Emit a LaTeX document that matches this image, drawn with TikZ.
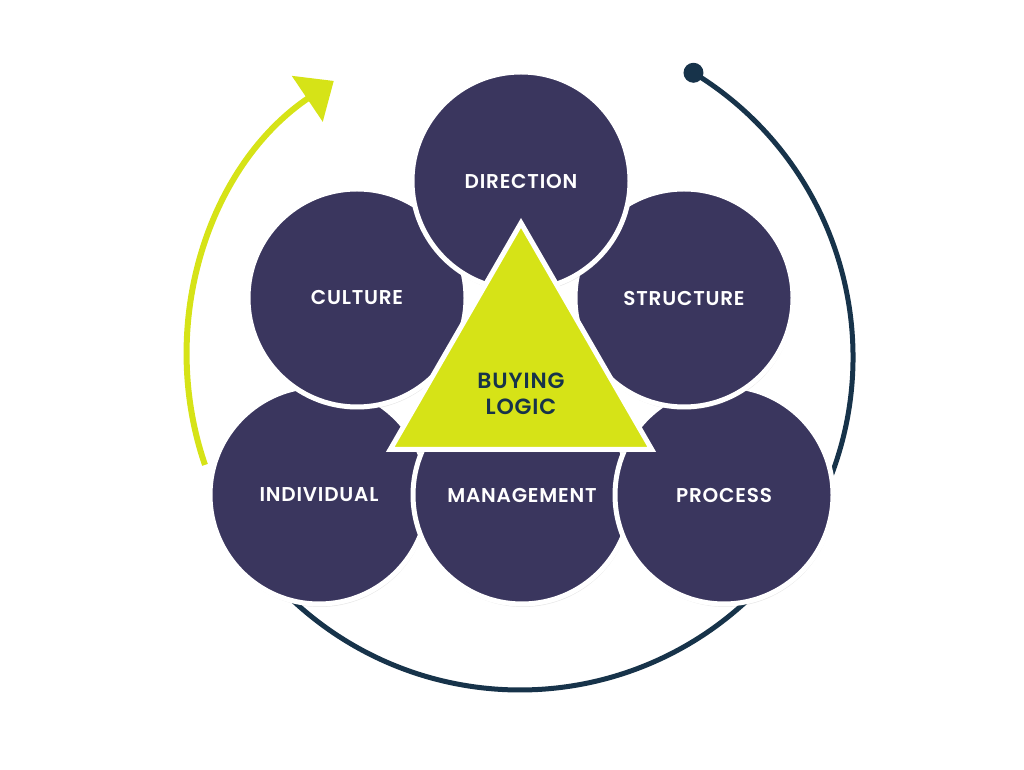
\documentclass[tikz,border=0pt]{standalone}
\usepackage{fontspec}
\setmainfont{Poppins}[BoldFont={* SemiBold}, LetterSpace=4]
\usetikzlibrary{shapes.geometric,shadows,arrows.meta}
\definecolor{navy}{HTML}{3A365E}
\definecolor{lime}{HTML}{D6E317}
\definecolor{ink}{HTML}{17334A}

\begin{document}
\begin{tikzpicture}[x=1pt, y=1pt,
    disc/.style={circle, draw=white, line width=5pt, fill=navy, minimum size=218pt, inner sep=0pt,
        text=white, font=\bfseries\fontsize{20}{22}\selectfont,
        drop shadow={shadow xshift=1pt, shadow yshift=-3pt, opacity=0.18}},
    tri/.style={regular polygon, regular polygon sides=3, draw=white, line width=5pt, fill=lime,
        minimum size=302pt, inner sep=0pt,
        drop shadow={shadow xshift=1pt, shadow yshift=-3pt, opacity=0.18}}]
    \useasboundingbox (0,0) rectangle (1024,770);

    % cycle round the circles
    \coordinate (hub) at (520,413);
    \coordinate (dot) at ([shift={(58.6:333)}]hub);
    \coordinate (tail) at ([shift={(198.9:333)}]hub);
    \draw[ink, line width=5pt] (dot) arc[start angle=58.6, end angle=-135, radius=333];
    \fill[ink] (dot) circle (10);
    \draw[lime, line width=6pt, -{Triangle[length=32pt, width=54pt]}] (tail) arc[start angle=198.9, end angle=124, radius=333];

    % circles, back to front
    \node[disc] (individual) at (319,275) {INDIVIDUAL};
    \node[disc] (management) at (522,275) {MANAGEMENT};
    \node[disc] (process) at (724,275) {PROCESS};
    \node[disc] (culture) at (357,472) {CULTURE};
    \node[disc] (structure) at (684,472) {STRUCTURE};
    \node[disc] (direction) at (521,589) {DIRECTION};

    % centre
    \node[tri] (logic) at (521,396) {};
    \node[align=center, text=ink, font=\bfseries\fontsize{22}{26}\selectfont] (logictext) at (521,376) {BUYING\\LOGIC};
\end{tikzpicture}
\end{document}
